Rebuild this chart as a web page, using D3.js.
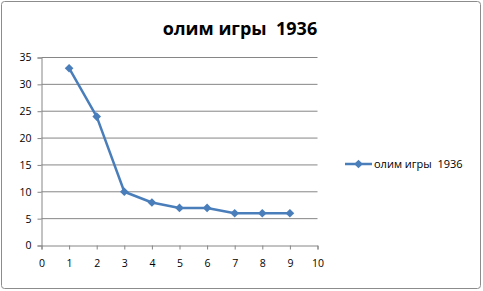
<!DOCTYPE html>
<html>
<head>
<meta charset="utf-8">
<script src="https://cdn.jsdelivr.net/npm/d3@7"></script>
<style>
  body { margin: 0; background: #fff; }
  text { font-family: "Open Sans", "DejaVu Sans", sans-serif; white-space: pre; }
</style>
</head>
<body>
<div id="chart"></div>
<script>
var xValues = [1, 2, 3, 4, 5, 6, 7, 8, 9];
var yValues = [33, 24, 10, 8, 7, 7, 6, 6, 6];
var seriesName = "олим игры  1936";
var chartTitle = "олим игры  1936";
var xTicks = [0, 1, 2, 3, 4, 5, 6, 7, 8, 9, 10];
var yTicks = [0, 5, 10, 15, 20, 25, 30, 35];

var W = 483, H = 291;
var lineColor = "#4a7ebb";
var gridColor = "#868686";

var svg = d3.select("#chart").append("svg")
    .attr("width", W).attr("height", H);

// outer frame
svg.append("rect")
    .attr("x", 1.5).attr("y", 1.5)
    .attr("width", W - 4).attr("height", H - 4)
    .attr("rx", 3)
    .attr("fill", "#fff").attr("stroke", "#8c8c8c").attr("stroke-width", 1);

// title
svg.append("text")
    .attr("x", 240).attr("y", 35)
    .attr("text-anchor", "middle")
    .attr("font-size", 18).attr("font-weight", "bold")
    .text(chartTitle);

var x = d3.scaleLinear().domain([0, 10]).range([41.5, 317.5]);
var y = d3.scaleLinear().domain([0, 35]).range([245.5, 57.5]);

// gridlines
svg.append("g").selectAll("line")
    .data(yTicks.filter(function(d){ return d > 0; }))
    .enter().append("line")
    .attr("x1", x(0)).attr("x2", x(10))
    .attr("y1", function(d){ return y(d); })
    .attr("y2", function(d){ return y(d); })
    .attr("stroke", gridColor).attr("stroke-width", 1);

// y axis
var yAxis = svg.append("g")
    .attr("transform", "translate(" + x(0) + ",0)")
    .call(d3.axisLeft(y).tickValues(yTicks).tickSize(4).tickPadding(6));
// x axis
var xAxis = svg.append("g")
    .attr("transform", "translate(0," + y(0) + ")")
    .call(d3.axisBottom(x).tickValues(xTicks).tickSize(4).tickPadding(10));

[xAxis, yAxis].forEach(function(a){
    a.select(".domain").attr("stroke", gridColor);
    a.selectAll(".tick line").attr("stroke", gridColor);
    a.selectAll(".tick text")
        .attr("font-size", 10.5)
        .attr("fill", "#000")
        .attr("font-family", "\"Open Sans\", \"DejaVu Sans\", sans-serif");
});

var pts = xValues.map(function(d, i){ return [d, yValues[i]]; });

svg.append("path")
    .datum(pts)
    .attr("fill", "none")
    .attr("stroke", lineColor)
    .attr("stroke-width", 2.5)
    .attr("stroke-linejoin", "round")
    .attr("d", d3.line()
        .x(function(d){ return x(d[0]); })
        .y(function(d){ return y(d[1]); }));

var diamond = d3.symbol().type(d3.symbolDiamond2).size(48);
svg.append("g").selectAll("path")
    .data(pts)
    .enter().append("path")
    .attr("transform", function(d){ return "translate(" + x(d[0]) + "," + y(d[1]) + ")"; })
    .attr("d", diamond)
    .attr("fill", lineColor);

// legend
var leg = svg.append("g").attr("transform", "translate(345,164)");
leg.append("line")
    .attr("x1", 0).attr("x2", 27)
    .attr("stroke", lineColor).attr("stroke-width", 2.5);
leg.append("path")
    .attr("transform", "translate(13.5,0)")
    .attr("d", diamond)
    .attr("fill", lineColor);
leg.append("text")
    .attr("x", 29).attr("y", 4)
    .attr("font-size", 11)
    .text(seriesName);
</script>
</body>
</html>
